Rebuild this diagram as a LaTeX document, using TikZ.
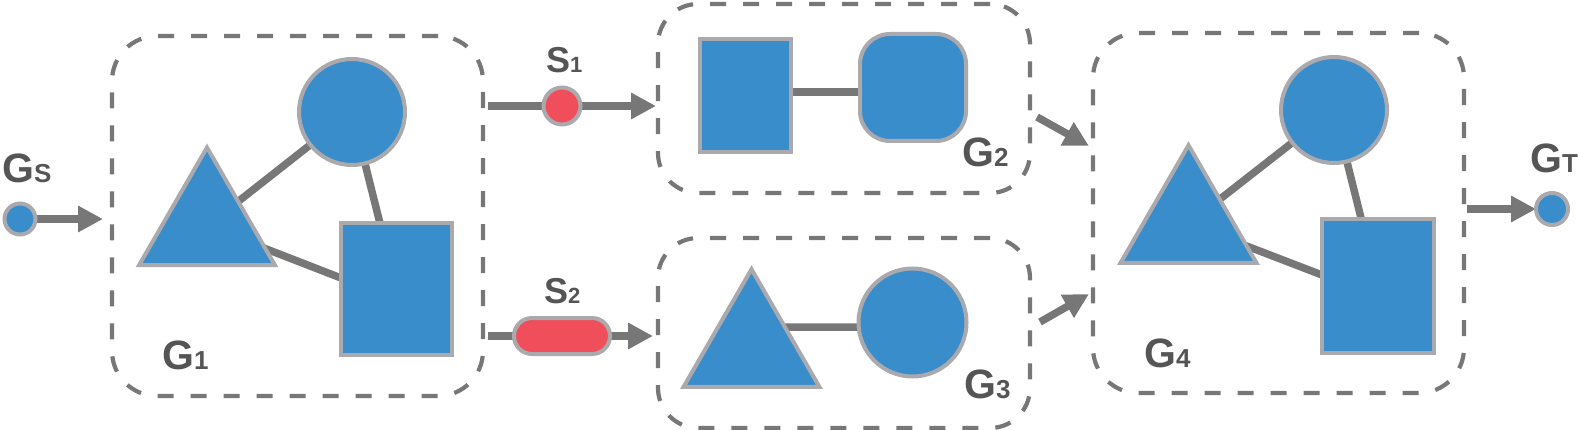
\documentclass[tikz,border=0pt]{standalone}
\usepackage{fontspec}
\setmainfont{Liberation Sans}
\usetikzlibrary{arrows.meta,shapes.geometric,calc}
\definecolor{nodeblue}{HTML}{3A8DCB}
\definecolor{nodered}{HTML}{EF4E5A}
\definecolor{rim}{HTML}{A9A9AE}
\definecolor{linkgray}{HTML}{777777}
\definecolor{labelgray}{HTML}{555555}
\pgfdeclarelayer{bg}
\pgfsetlayers{bg,main}
\tikzset{
  shapebase/.style={draw=rim, line width=4pt, inner sep=0pt, outer sep=0pt},
  bluecircle/.style={shapebase, fill=nodeblue, circle},
  bluerect/.style={shapebase, fill=nodeblue, rectangle},
  bluetri/.style={shapebase, fill=nodeblue, regular polygon, regular polygon sides=3, minimum size=157pt},
  redpill/.style={shapebase, fill=nodered, rectangle, rounded corners=18pt, minimum width=96pt, minimum height=36pt},
  gbox/.style={draw=linkgray, line width=4.2pt, dash pattern=on 16pt off 17pt, rounded corners=45pt, rectangle, inner sep=0pt, outer sep=0pt},
  link/.style={draw=linkgray, line width=7.5pt},
  arr/.style={link, -{Triangle[length=25pt,width=25pt]}},
  lbl/.style={text=labelgray, font=\bfseries, anchor=base west, inner sep=0pt},
}
\newcommand{\bigG}[1]{{\fontsize{41}{41}\selectfont G}{\fontsize{26}{26}\selectfont #1}}
\newcommand{\bigS}[1]{{\fontsize{36}{36}\selectfont S}{\fontsize{22}{22}\selectfont #1}}
\begin{document}
\begin{tikzpicture}[x=1pt,y=-1pt]
\useasboundingbox (0,0) rectangle (1579,430);

% dashed group boxes
\node[gbox, minimum width=371pt, minimum height=360pt] (g1) at (297.5,216) {};
\node[gbox, minimum width=372pt, minimum height=189pt, rounded corners=40pt] (g2) at (844,98.5) {};
\node[gbox, minimum width=372pt, minimum height=190pt, rounded corners=40pt] (g3) at (844,333) {};
\node[gbox, minimum width=371pt, minimum height=360pt] (g4) at (1278.5,213) {};

% source / sink
\node[bluecircle, minimum size=31pt] (gs) at (20,219) {};
\node[bluecircle, minimum size=32pt] (gt) at (1552,209) {};

% separators
\node[shapebase, fill=nodered, circle, minimum size=37pt] (s1) at (562,106) {};
\node[redpill] (s2) at (562,336) {};

% G1 content
\node[bluetri] (t1) at (207,226) {};
\node[bluecircle, minimum size=106pt] (c1) at (352,112) {};
\node[bluerect, minimum width=111pt, minimum height=132pt] (r1) at (396.5,289) {};

% G2 content
\node[bluerect, minimum width=91pt, minimum height=113pt] (r2) at (745.5,95.5) {};
\node[bluerect, rounded corners=30pt, minimum width=106pt, minimum height=107pt] (q2) at (913,87.5) {};

% G3 content
\node[bluetri] (t3) at (751.5,347.7) {};
\node[bluecircle, minimum size=108pt] (c3) at (912.5,322.5) {};

% G4 content
\node[bluetri] (t4) at (1188.5,223.7) {};
\node[bluecircle, minimum size=106pt] (c4) at (1334,110) {};
\node[bluerect, minimum width=112pt, minimum height=134pt] (r4) at (1378,286) {};

% free ends of the arrows between groups
\coordinate (a2s) at (1037,117);
\coordinate (a2e) at (1089,146);
\coordinate (a3s) at (1040,322);
\coordinate (a3e) at (1089,294);

\begin{pgfonlayer}{bg}
  % inner edges
  \draw[link] (t1.center) -- (c1.center);
  \draw[link] (c1.center) -- (r1.center);
  \draw[link] (t1.center) -- ([yshift=11pt]r1.west);
  \draw[link] ([yshift=3.5pt]r2.east) -- ([yshift=-4.5pt]q2.west);
  \draw[link] ([yshift=20.5pt]t3.center) -- ([yshift=-4.5pt]c3.west);
  \draw[link] (t4.center) -- (c4.center);
  \draw[link] (c4.center) -- (r4.center);
  \draw[link] (t4.center) -- ([yshift=11pt]r4.west);
  % flow arrows
  \draw[arr, shorten >=9pt] (gs) -- (gs -| g1.west);
  \draw[link, shorten <=5pt] (s1 -| g1.east) -- (s1.center);
  \draw[arr, shorten >=2pt] (s1.center) -- (s1 -| g2.west);
  \draw[link, shorten <=5pt] (s2 -| g1.east) -- (s2.center);
  \draw[arr, shorten >=5pt] (s2.center) -- (s2 -| g3.west);
  \draw[arr] (a2s) -- (a2e);
  \draw[arr] (a3s) -- (a3e);
  \draw[arr, shorten <=3pt] (gt -| g4.east) -- (gt);
\end{pgfonlayer}

% labels
\node[lbl] (lgs) at (2,183) {\bigG{S}};
\node[lbl] (lg1) at (162,369) {\bigG{1}};
\node[lbl] (lg2) at (962,167) {\bigG{2}};
\node[lbl] (lg3) at (964,398) {\bigG{3}};
\node[lbl] (lg4) at (1144,367) {\bigG{4}};
\node[lbl] (lgt) at (1530,173) {\bigG{T}};
\node[lbl] (ls1) at (546,73) {\bigS{1}};
\node[lbl] (ls2) at (544,303) {\bigS{2}};
\end{tikzpicture}
\end{document}
